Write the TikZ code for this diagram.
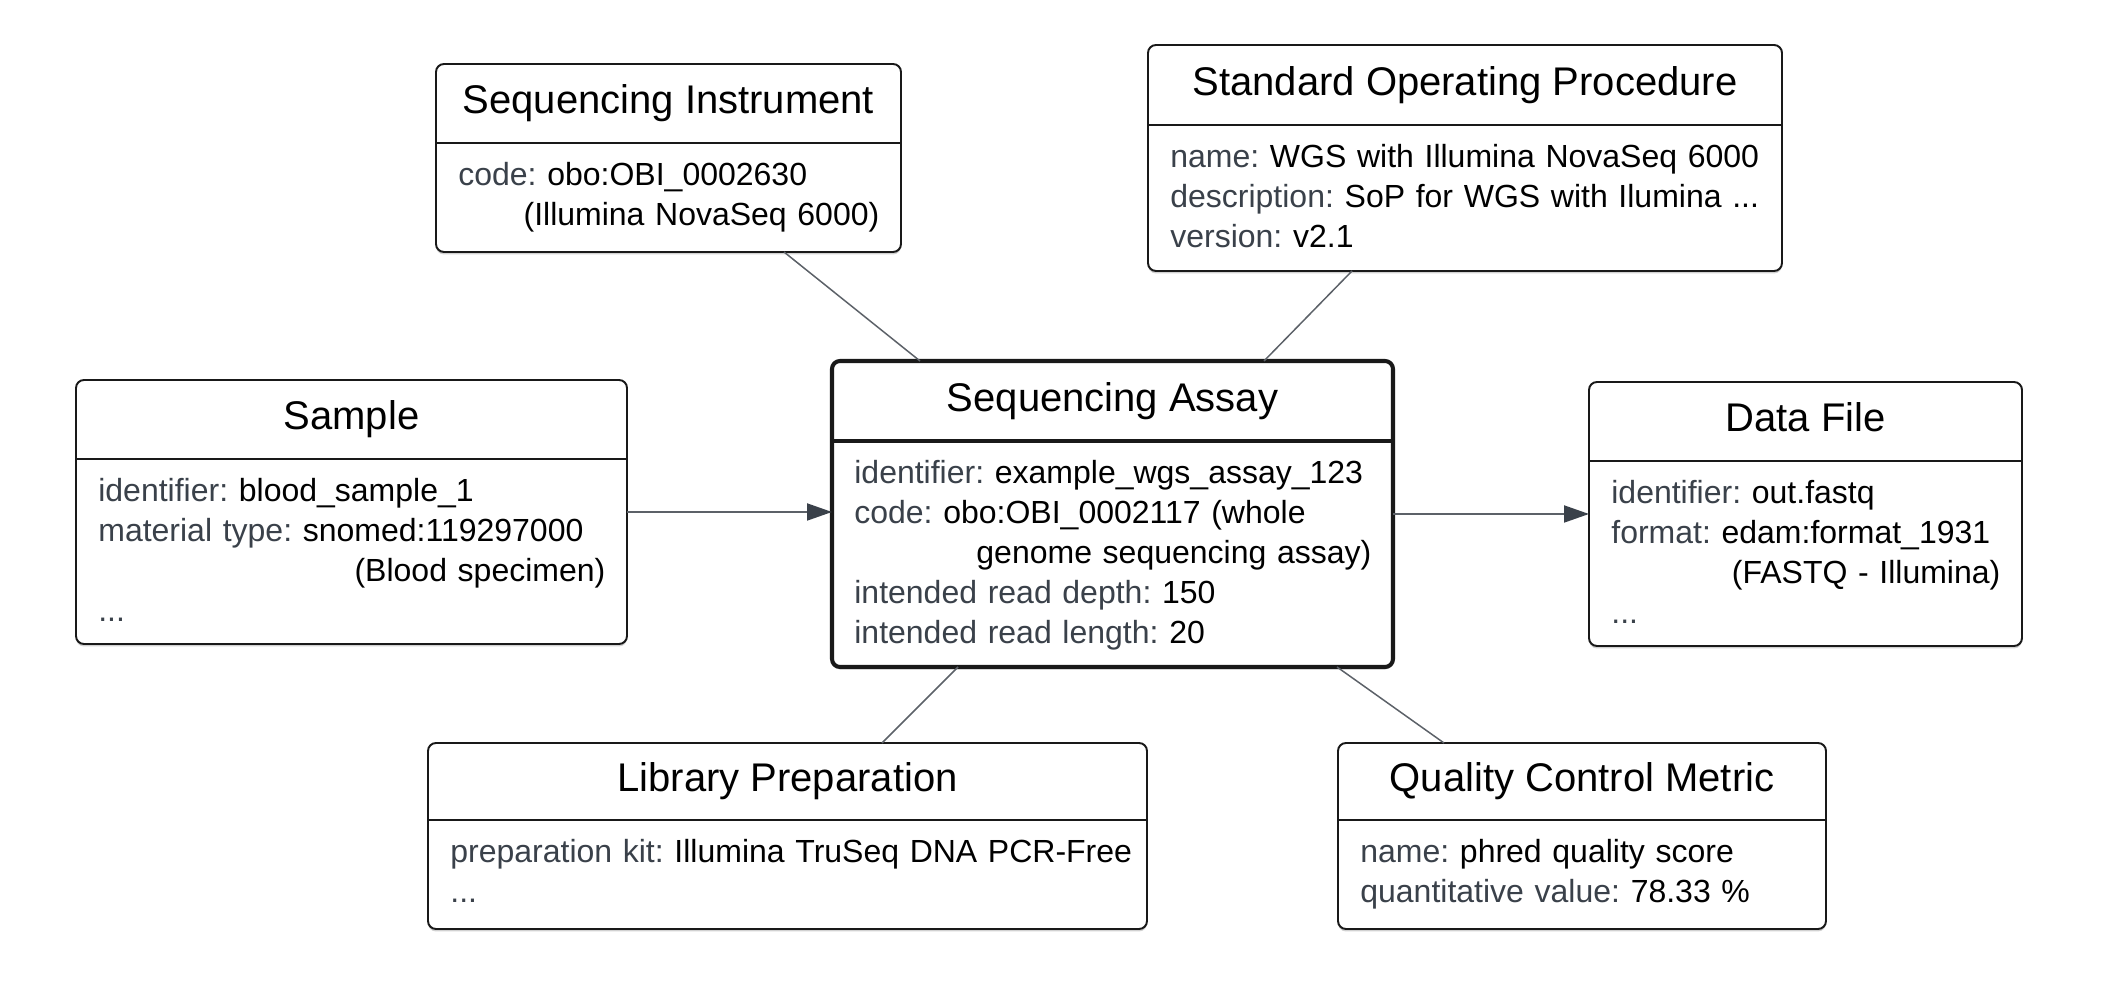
\documentclass[tikz,border=0pt]{standalone}
\usepackage{fontspec}
\setmainfont{Liberation Sans}
\usepackage{xcolor}
\usepackage{tikz}
\usetikzlibrary{arrows.meta, positioning, shadows}

\definecolor{keygray}{HTML}{3A414A}
\definecolor{linegray}{HTML}{5C6168}
\newcommand{\prop}[2]{\textcolor{keygray}{#1:} #2}
\frenchspacing

\begin{document}
\begin{tikzpicture}[
    box/.style={draw=black!90, line width=1.1pt, rounded corners=0.16cm, fill=white, outer sep=0pt,
        drop shadow={shadow xshift=0cm, shadow yshift=-0.05cm, opacity=0.3, fill=black!60}},
    mainbox/.style={box, line width=2.3pt},
    divider/.style={draw=black!90, line width=1.1pt},
    boxtitle/.style={font=\fontsize{0.8cm}{0.96cm}\selectfont, text height=0.576cm, text depth=0.168cm, inner sep=0pt},
    boxbody/.style={anchor=north west, inner sep=0pt, align=left,
        font=\fontsize{0.64cm}{0.8cm}\selectfont, execute at begin node={\noindent\strut}},
    link/.style={draw=linegray, line width=0.85pt},
    arrow/.style={draw=linegray, line width=1.1pt, -{Triangle[length=0.5cm, width=0.34cm, color=keygray]}}
]
    \useasboundingbox (0,0) rectangle (42.36,19.92);

    % Boxes
    \node[box, minimum width=9.30cm, minimum height=3.76cm] (inst) at (13.37,16.76) {};
    \node[box, minimum width=12.68cm, minimum height=4.52cm] (sop) at (29.30,16.76) {};
    \node[box, minimum width=11.02cm, minimum height=5.28cm] (sample) at (7.03,9.68) {};
    \node[mainbox, minimum width=11.22cm, minimum height=6.12cm] (assay) at (22.25,9.64) {};
    \node[box, minimum width=8.66cm, minimum height=5.28cm] (data) at (36.11,9.64) {};
    \node[box, minimum width=14.38cm, minimum height=3.72cm] (lib) at (15.75,3.20) {};
    \node[box, minimum width=9.76cm, minimum height=3.72cm] (qc) at (31.64,3.20) {};

    % Header lines
    \draw[divider] (inst.west |- 0,17.06) -- (inst.east |- 0,17.06);
    \draw[divider] (sop.west |- 0,17.42) -- (sop.east |- 0,17.42);
    \draw[divider] (sample.west |- 0,10.74) -- (sample.east |- 0,10.74);
    \draw[divider, line width=2.3pt] (assay.west |- 0,11.10) -- (assay.east |- 0,11.10);
    \draw[divider] (data.west |- 0,10.70) -- (data.east |- 0,10.70);
    \draw[divider] (lib.west |- 0,3.52) -- (lib.east |- 0,3.52);
    \draw[divider] (qc.west |- 0,3.52) -- (qc.east |- 0,3.52);

    % Titles
    \node[boxtitle] (inst-title) at (13.37,17.85) {Sequencing Instrument};
    \node[boxtitle] (sop-title) at (29.30,18.22) {Standard Operating Procedure};
    \node[boxtitle] (sample-title) at (7.03,11.53) {Sample};
    \node[boxtitle] (assay-title) at (22.25,11.90) {Sequencing Assay};
    \node[boxtitle] (data-title) at (36.11,11.49) {Data File};
    \node[boxtitle] (lib-title) at (15.75,4.29) {Library Preparation};
    \node[boxtitle] (qc-title) at (31.64,4.29) {Quality Control Metric};

    % Attributes
    \node[boxbody, text width=8.42cm] (inst-body) at (9.16,16.78) {%
        \prop{code}{obo:OBI\_0002630}\\
        \hspace*{\fill}(Illumina NovaSeq 6000)};
    \node[boxbody, text width=11.80cm] (sop-body) at (23.40,17.14) {%
        \prop{name}{WGS with Illumina NovaSeq 6000}\\
        \prop{description}{SoP for WGS with Ilumina ...}\\
        \prop{version}{v2.1}};
    \node[boxbody, text width=10.14cm] (sample-body) at (1.96,10.46) {%
        \prop{identifier}{blood\_sample\_1}\\
        \prop{material type}{snomed:119297000}\\
        \hspace*{\fill}(Blood specimen)\\
        \textcolor{keygray}{...}};
    \node[boxbody, text width=10.34cm] (assay-body) at (17.08,10.82) {%
        \prop{identifier}{example\_wgs\_assay\_123}\\
        \prop{code}{obo:OBI\_0002117 (whole}\\
        \hspace*{\fill}genome sequencing assay)\\
        \prop{intended read depth}{150}\\
        \prop{intended read length}{20}};
    \node[boxbody, text width=7.78cm] (data-body) at (32.22,10.42) {%
        \prop{identifier}{out.fastq}\\
        \prop{format}{edam:format\_1931}\\
        \hspace*{\fill}(FASTQ - Illumina)\\
        \textcolor{keygray}{...}};
    \node[boxbody, text width=13.90cm] (lib-body) at (9.00,3.24) {%
        \prop{preparation kit}{\mbox{Illumina TruSeq DNA PCR-Free}}\\
        \textcolor{keygray}{...}};
    \node[boxbody, text width=8.88cm] (qc-body) at (27.20,3.24) {%
        \prop{name}{phred quality score}\\
        \prop{quantitative value}{78.33 \%}};

    % Links
    \draw[link] ([xshift=2.31cm]inst.south) -- ([xshift=-3.85cm]assay.north);
    \draw[link] ([xshift=-2.26cm]sop.south) -- ([xshift=3.03cm]assay.north);
    \draw[link] ([xshift=1.89cm]lib.north) -- ([xshift=-3.09cm]assay.south);
    \draw[link] ([xshift=-2.76cm]qc.north) -- ([xshift=4.49cm]assay.south);
    \draw[arrow] (sample.east) -- (sample.east -| assay.west);
    \draw[arrow] (assay.east) -- (assay.east -| data.west);
\end{tikzpicture}
\end{document}
